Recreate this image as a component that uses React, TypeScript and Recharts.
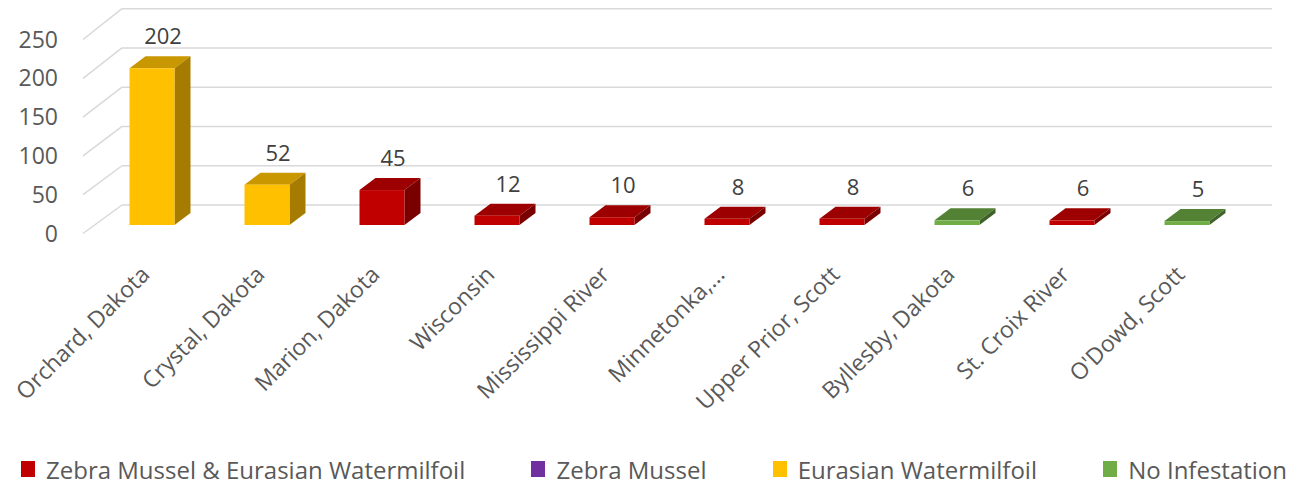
import React from "react";
import { BarChart, Bar, XAxis, YAxis, CartesianGrid, Legend, LabelList } from "recharts";

// lakes and their counts
const lakes = [
  "Orchard, Dakota",
  "Crystal, Dakota",
  "Marion, Dakota",
  "Wisconsin",
  "Mississippi River",
  "Minnetonka,...",
  "Upper Prior, Scott",
  "Byllesby, Dakota",
  "St. Croix River",
  "O'Dowd, Scott",
];
const counts = [202, 52, 45, 12, 10, 8, 8, 6, 6, 5];
const status = ["ew", "ew", "zmew", "zmew", "zmew", "zmew", "zmew", "none", "zmew", "none"];
const yTicks = [0, 50, 100, 150, 200, 250];

const legendKeys = ["zmew", "zm", "ew", "none"];
const legendNames = [
  "Zebra Mussel & Eurasian Watermilfoil",
  "Zebra Mussel",
  "Eurasian Watermilfoil",
  "No Infestation",
];

const palette: Record<string, { front: string; top: string; side: string }> = {
  zmew: { front: "#C00000", top: "#9C0000", side: "#7A0000" },
  zm: { front: "#7030A0", top: "#5A2680", side: "#451D62" },
  ew: { front: "#FFC000", top: "#C99700", side: "#A67C00" },
  none: { front: "#70AD47", top: "#548235", side: "#3F6228" },
};

const data = lakes.map((name, i) => ({ name, count: counts[i], status: status[i] }));

const FONT = "'Open Sans', Lato, sans-serif";
const DX = 16;
const DY = 12;

// 3d-ish box like excel's column chart
const Box = (props: any) => {
  const { x, y, width, height, payload } = props;
  const c = palette[payload.status];
  return (
    <g>
      <polygon
        points={`${x},${y} ${x + DX},${y - DY} ${x + width + DX},${y - DY} ${x + width},${y}`}
        fill={c.top}
      />
      <polygon
        points={`${x + width},${y} ${x + width + DX},${y - DY} ${x + width + DX},${y + height - DY} ${x + width},${y + height}`}
        fill={c.side}
      />
      <rect x={x} y={y} width={width} height={height} fill={c.front} />
    </g>
  );
};

// back wall line + the diagonal on the side wall
const wallLine = (props: any) => {
  const { x1, y1, x2 } = props;
  const bottom = props.y + props.height;
  const back = y1 - 20 - (bottom - y1) * 0.012;
  return (
    <g key={props.key}>
      <line x1={x1 - 11.5} y1={y1 + 8.5} x2={x1 + 27.5} y2={back} stroke="#D9D9D9" strokeWidth={1.5} />
      <line x1={x1 + 27.5} y1={back} x2={x2 + 27.5} y2={back} stroke="#D9D9D9" strokeWidth={1.5} />
    </g>
  );
};

const YTick = (props: any) => (
  <text x={props.x} y={props.y + 8.5} dy="0.35em" textAnchor="end" fill="#595959" fontSize={23} fontFamily={FONT}>
    {props.payload.value}
  </text>
);

const XTick = (props: any) => {
  const tx = props.x - 1;
  const ty = props.y + 51;
  return (
    <text x={tx} y={ty} transform={`rotate(-45 ${tx} ${ty})`} textAnchor="end" fill="#595959" fontSize={23} fontFamily={FONT}>
      {props.payload.value}
    </text>
  );
};

const ValueLabel = (props: any) => {
  const { x, y, width, value } = props;
  return (
    <text x={x + width / 2 + 11} y={y - 24} textAnchor="middle" fill="#404040" fontSize={22} fontFamily={FONT}>
      {value}
    </text>
  );
};

const LegendBox = () => (
  <div
    style={{
      display: "flex",
      justifyContent: "space-between",
      alignItems: "center",
      height: 36,
      padding: "0 9px 0 21px",
      fontFamily: FONT,
      fontSize: 24,
      color: "#595959",
    }}
  >
    {legendKeys.map((k, i) => (
      <div key={k} style={{ display: "flex", alignItems: "center", gap: 11 }}>
        <span style={{ width: 14, height: 16, background: palette[k].front, display: "inline-block" }} />
        <span>{legendNames[i]}</span>
      </div>
    ))}
  </div>
);

export default function App() {
  return (
    <div style={{ position: "absolute", left: 0, top: 0, background: "#fff" }}>
      <BarChart width={1296} height={484} data={data} margin={{ top: 31, right: 51.5, left: 14.5, bottom: 23 }}>
        <CartesianGrid vertical={false} horizontal={wallLine} />
        <XAxis dataKey="name" height={200} interval={0} axisLine={false} tickLine={false} tickSize={0} tickMargin={0} tick={<XTick />} />
        <YAxis
          width={80}
          domain={[0, 250]}
          ticks={yTicks}
          axisLine={false}
          tickLine={false}
          tickSize={0}
          tickMargin={36.5}
          tick={<YTick />}
        />
        <Legend
          content={<LegendBox />}
          verticalAlign="bottom"
          wrapperStyle={{ top: 451, bottom: "auto", left: 0, width: 1296, height: 36 }}
        />
        <Bar dataKey="count" barSize={45} shape={<Box />} isAnimationActive={false}>
          <LabelList dataKey="count" content={<ValueLabel />} />
        </Bar>
      </BarChart>
    </div>
  );
}
